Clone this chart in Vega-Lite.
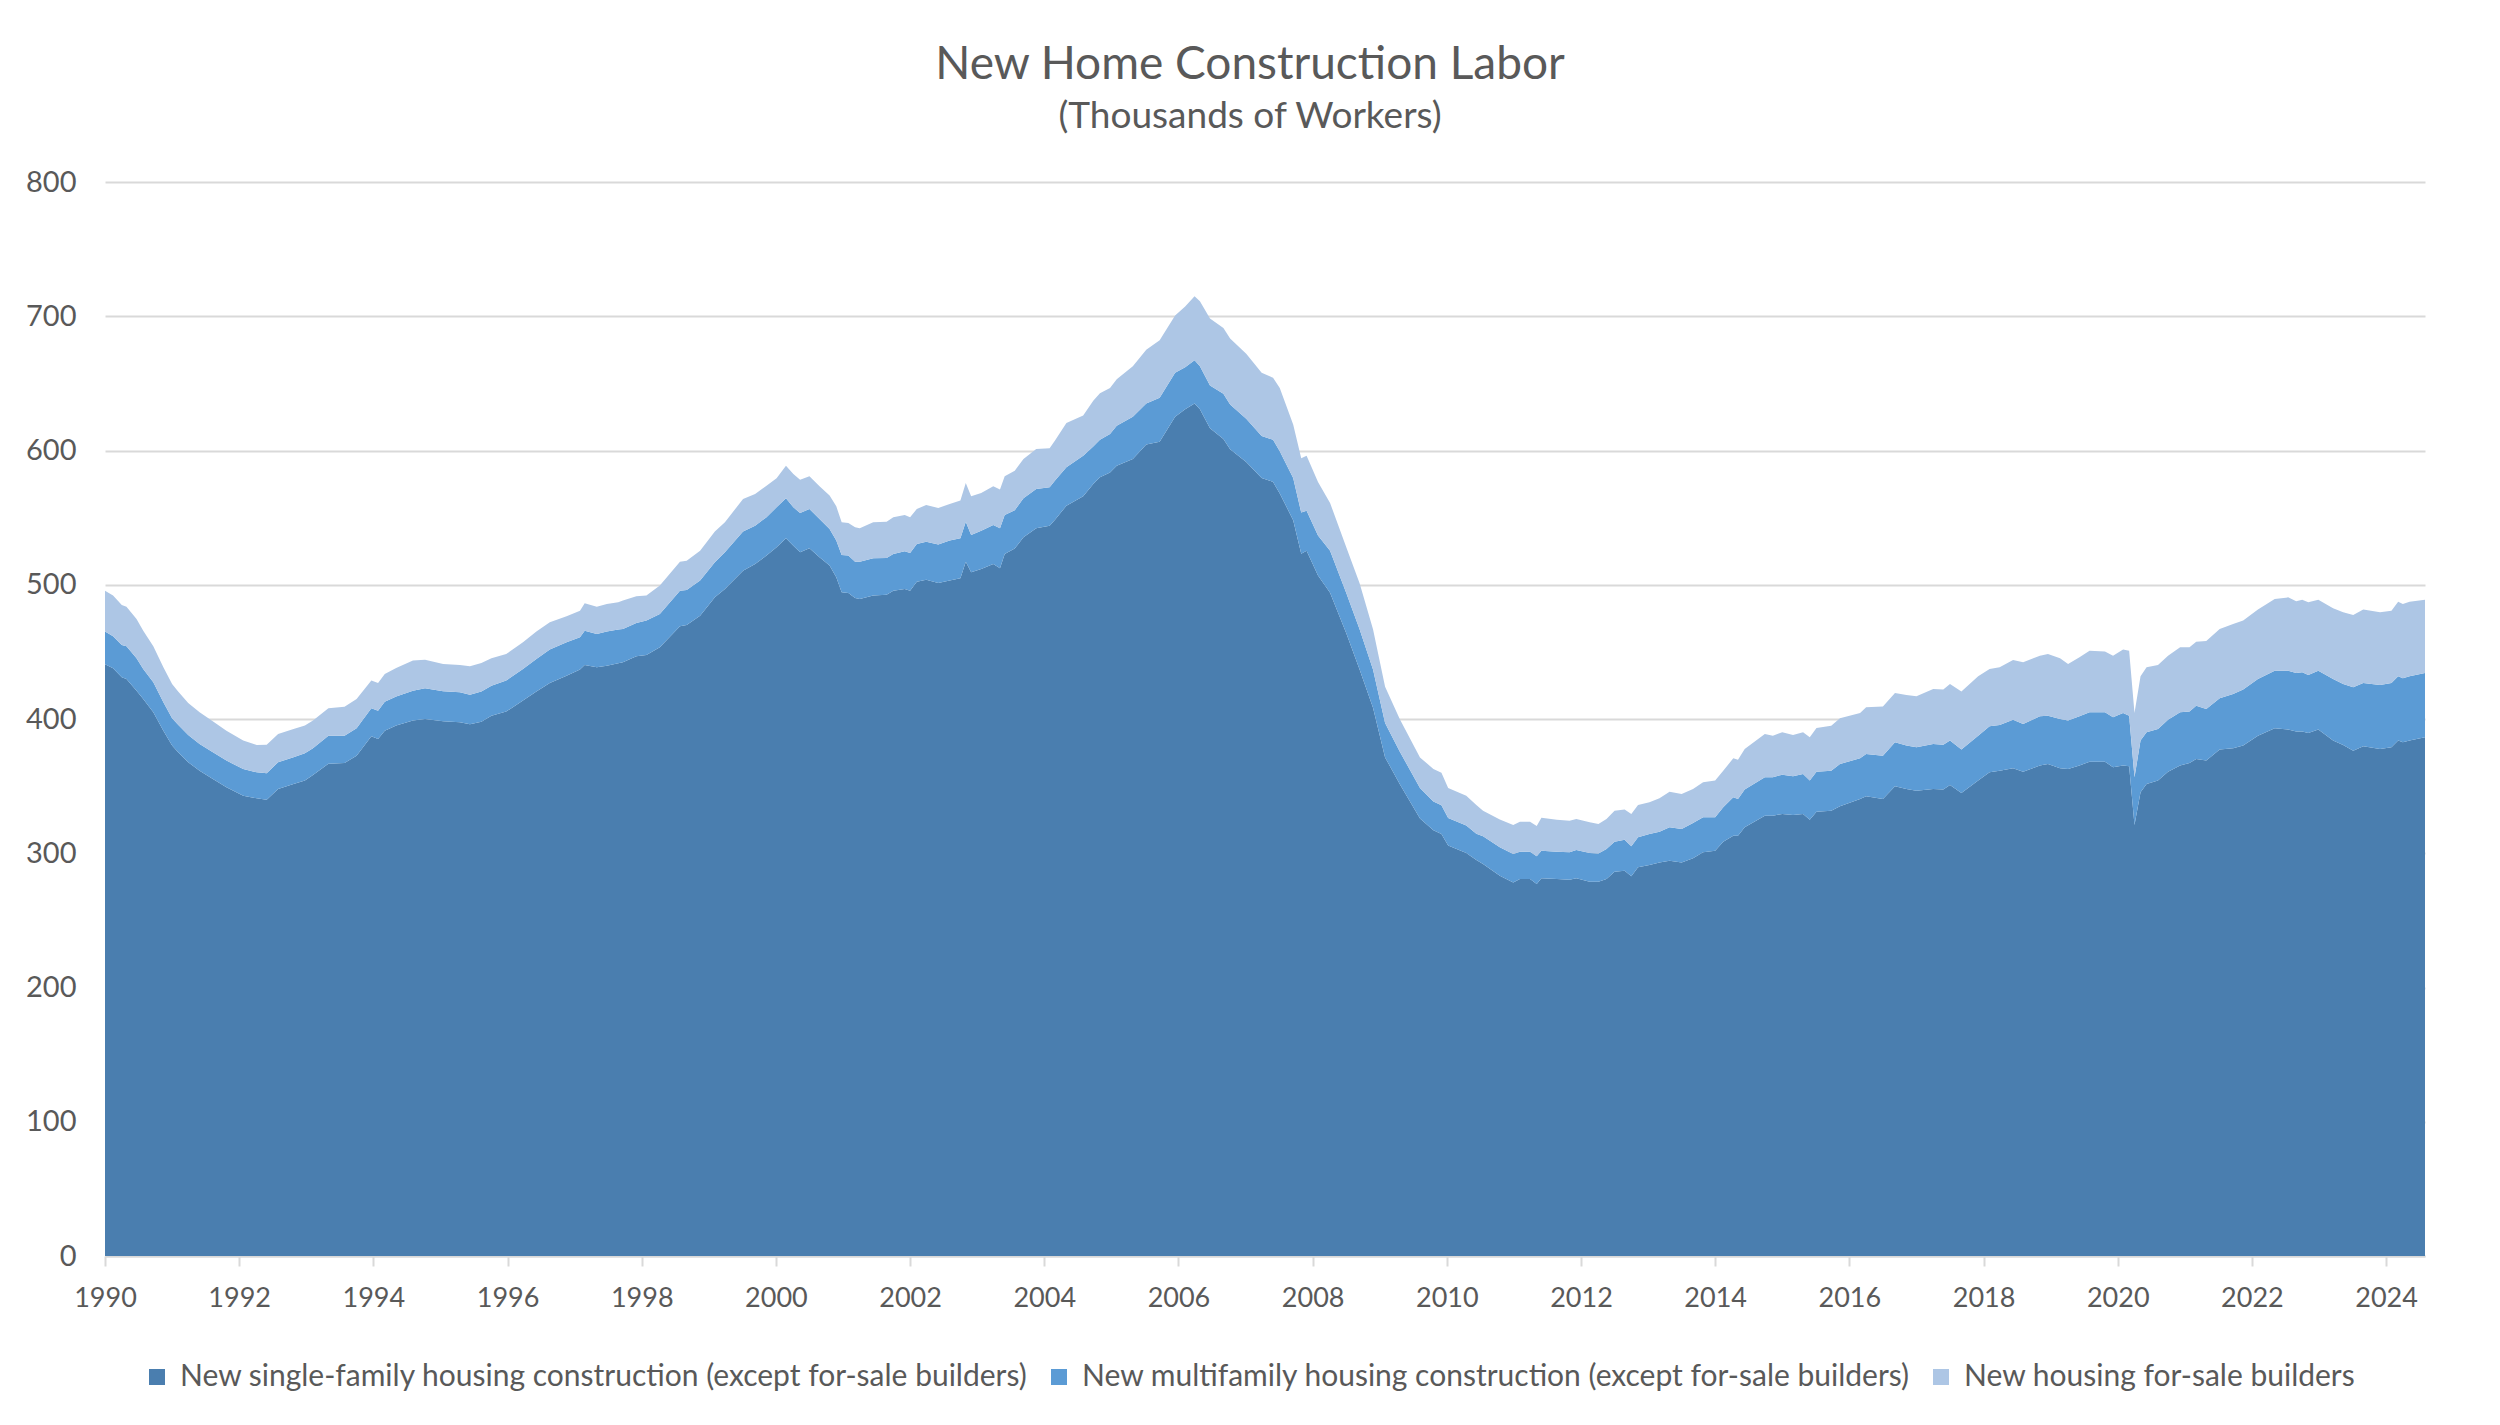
{
  "$schema": "https://vega.github.io/schema/vega-lite/v6.json",
  "width": 2320,
  "height": 1074,
  "autosize": {"type": "none"},
  "padding": {"left": 105, "top": 182, "right": 75, "bottom": 169},
  "background": "white",
  "title": {
    "text": "New Home Construction Labor",
    "subtitle": "(Thousands of Workers)",
    "anchor": "middle",
    "dx": -15,
    "offset": 32,
    "font": "Lato",
    "fontSize": 46,
    "fontWeight": "normal",
    "color": "#595959",
    "subtitleFont": "Lato",
    "subtitleFontSize": 37,
    "subtitleColor": "#595959",
    "subtitlePadding": 10
  },
  "data": {
    "values": [
      {"t": 1990.00, "sf": 440.7, "mf": 24.4, "fs": 30.5},
      {"t": 1990.12, "sf": 437.8, "mf": 23.8, "fs": 30.3},
      {"t": 1990.25, "sf": 431.1, "mf": 24.0, "fs": 29.8},
      {"t": 1990.32, "sf": 429.8, "mf": 24.3, "fs": 29.6},
      {"t": 1990.47, "sf": 421.1, "mf": 24.1, "fs": 29.3},
      {"t": 1990.57, "sf": 414.9, "mf": 22.4, "fs": 28.5},
      {"t": 1990.72, "sf": 405.0, "mf": 22.3, "fs": 26.9},
      {"t": 1990.87, "sf": 391.3, "mf": 21.1, "fs": 26.1},
      {"t": 1991.00, "sf": 380.2, "mf": 20.3, "fs": 25.6},
      {"t": 1991.09, "sf": 375.2, "mf": 20.6, "fs": 24.6},
      {"t": 1991.24, "sf": 367.7, "mf": 20.4, "fs": 23.8},
      {"t": 1991.41, "sf": 361.5, "mf": 19.9, "fs": 23.6},
      {"t": 1991.59, "sf": 355.8, "mf": 19.9, "fs": 23.1},
      {"t": 1991.81, "sf": 349.1, "mf": 19.9, "fs": 22.3},
      {"t": 1992.06, "sf": 342.9, "mf": 19.9, "fs": 21.1},
      {"t": 1992.26, "sf": 340.9, "mf": 19.4, "fs": 20.4},
      {"t": 1992.41, "sf": 339.9, "mf": 19.6, "fs": 21.4},
      {"t": 1992.58, "sf": 347.9, "mf": 19.8, "fs": 21.1},
      {"t": 1992.81, "sf": 351.6, "mf": 19.9, "fs": 21.1},
      {"t": 1992.98, "sf": 354.1, "mf": 20.3, "fs": 20.7},
      {"t": 1993.10, "sf": 358.3, "mf": 19.9, "fs": 20.6},
      {"t": 1993.33, "sf": 366.7, "mf": 20.9, "fs": 20.4},
      {"t": 1993.57, "sf": 367.2, "mf": 20.4, "fs": 21.6},
      {"t": 1993.75, "sf": 372.7, "mf": 20.4, "fs": 21.8},
      {"t": 1993.97, "sf": 387.1, "mf": 20.9, "fs": 20.6},
      {"t": 1994.07, "sf": 385.1, "mf": 21.1, "fs": 20.6},
      {"t": 1994.17, "sf": 391.3, "mf": 21.6, "fs": 20.6},
      {"t": 1994.34, "sf": 395.1, "mf": 21.6, "fs": 21.3},
      {"t": 1994.59, "sf": 398.8, "mf": 22.3, "fs": 22.4},
      {"t": 1994.77, "sf": 400.0, "mf": 22.9, "fs": 21.3},
      {"t": 1995.04, "sf": 398.3, "mf": 22.3, "fs": 20.4},
      {"t": 1995.29, "sf": 397.5, "mf": 22.4, "fs": 20.3},
      {"t": 1995.44, "sf": 396.0, "mf": 22.1, "fs": 21.1},
      {"t": 1995.61, "sf": 398.0, "mf": 22.4, "fs": 21.3},
      {"t": 1995.76, "sf": 402.5, "mf": 22.3, "fs": 20.4},
      {"t": 1995.98, "sf": 405.5, "mf": 23.1, "fs": 19.8},
      {"t": 1996.23, "sf": 413.7, "mf": 23.6, "fs": 19.8},
      {"t": 1996.43, "sf": 420.4, "mf": 24.3, "fs": 20.4},
      {"t": 1996.63, "sf": 426.8, "mf": 24.9, "fs": 20.3},
      {"t": 1996.88, "sf": 432.3, "mf": 24.8, "fs": 19.4},
      {"t": 1997.08, "sf": 436.8, "mf": 24.1, "fs": 19.8},
      {"t": 1997.15, "sf": 440.2, "mf": 25.6, "fs": 20.4},
      {"t": 1997.33, "sf": 438.5, "mf": 24.8, "fs": 20.4},
      {"t": 1997.48, "sf": 439.7, "mf": 25.4, "fs": 20.6},
      {"t": 1997.65, "sf": 441.5, "mf": 25.1, "fs": 20.3},
      {"t": 1997.72, "sf": 442.2, "mf": 24.9, "fs": 21.1},
      {"t": 1997.92, "sf": 446.7, "mf": 24.8, "fs": 19.9},
      {"t": 1998.07, "sf": 447.7, "mf": 25.6, "fs": 18.6},
      {"t": 1998.27, "sf": 453.4, "mf": 24.9, "fs": 21.1},
      {"t": 1998.57, "sf": 469.1, "mf": 26.5, "fs": 21.6},
      {"t": 1998.67, "sf": 470.1, "mf": 26.0, "fs": 21.8},
      {"t": 1998.87, "sf": 477.0, "mf": 26.1, "fs": 22.3},
      {"t": 1999.09, "sf": 490.7, "mf": 26.0, "fs": 22.9},
      {"t": 1999.24, "sf": 496.9, "mf": 27.3, "fs": 22.3},
      {"t": 1999.51, "sf": 510.5, "mf": 29.1, "fs": 24.3},
      {"t": 1999.69, "sf": 515.5, "mf": 28.5, "fs": 23.6},
      {"t": 1999.86, "sf": 521.7, "mf": 28.6, "fs": 23.5},
      {"t": 2000.01, "sf": 527.9, "mf": 29.8, "fs": 21.6},
      {"t": 2000.15, "sf": 534.6, "mf": 29.8, "fs": 24.3},
      {"t": 2000.26, "sf": 529.1, "mf": 28.6, "fs": 24.8},
      {"t": 2000.36, "sf": 524.2, "mf": 29.3, "fs": 24.8},
      {"t": 2000.50, "sf": 527.2, "mf": 29.3, "fs": 24.3},
      {"t": 2000.65, "sf": 520.5, "mf": 28.5, "fs": 24.3},
      {"t": 2000.80, "sf": 514.3, "mf": 27.3, "fs": 24.8},
      {"t": 2000.90, "sf": 505.6, "mf": 27.3, "fs": 25.5},
      {"t": 2000.98, "sf": 494.4, "mf": 27.8, "fs": 24.3},
      {"t": 2001.08, "sf": 493.9, "mf": 27.8, "fs": 24.3},
      {"t": 2001.18, "sf": 490.2, "mf": 27.0, "fs": 25.6},
      {"t": 2001.25, "sf": 489.4, "mf": 27.8, "fs": 24.9},
      {"t": 2001.45, "sf": 491.9, "mf": 27.8, "fs": 26.8},
      {"t": 2001.65, "sf": 492.6, "mf": 27.3, "fs": 27.1},
      {"t": 2001.75, "sf": 495.6, "mf": 27.3, "fs": 27.4},
      {"t": 2001.92, "sf": 496.9, "mf": 28.0, "fs": 27.1},
      {"t": 2002.00, "sf": 495.6, "mf": 28.1, "fs": 26.6},
      {"t": 2002.10, "sf": 502.3, "mf": 28.1, "fs": 26.1},
      {"t": 2002.24, "sf": 503.8, "mf": 28.3, "fs": 27.3},
      {"t": 2002.42, "sf": 501.3, "mf": 28.6, "fs": 27.3},
      {"t": 2002.59, "sf": 503.1, "mf": 29.8, "fs": 27.3},
      {"t": 2002.75, "sf": 504.8, "mf": 29.8, "fs": 28.1},
      {"t": 2002.83, "sf": 517.2, "mf": 29.8, "fs": 28.8},
      {"t": 2002.91, "sf": 509.3, "mf": 27.8, "fs": 28.8},
      {"t": 2003.06, "sf": 511.8, "mf": 28.5, "fs": 28.1},
      {"t": 2003.24, "sf": 515.5, "mf": 29.0, "fs": 28.8},
      {"t": 2003.34, "sf": 512.3, "mf": 29.8, "fs": 28.8},
      {"t": 2003.41, "sf": 522.9, "mf": 29.1, "fs": 28.8},
      {"t": 2003.56, "sf": 527.0, "mf": 28.5, "fs": 29.5},
      {"t": 2003.69, "sf": 535.4, "mf": 29.0, "fs": 29.3},
      {"t": 2003.88, "sf": 542.1, "mf": 29.3, "fs": 29.8},
      {"t": 2004.08, "sf": 544.0, "mf": 28.6, "fs": 29.0},
      {"t": 2004.16, "sf": 548.5, "mf": 29.1, "fs": 29.8},
      {"t": 2004.33, "sf": 558.9, "mf": 28.6, "fs": 33.0},
      {"t": 2004.58, "sf": 566.0, "mf": 30.0, "fs": 30.0},
      {"t": 2004.73, "sf": 575.0, "mf": 28.0, "fs": 34.0},
      {"t": 2004.83, "sf": 580.0, "mf": 28.0, "fs": 34.7},
      {"t": 2004.98, "sf": 583.7, "mf": 28.6, "fs": 34.2},
      {"t": 2005.08, "sf": 588.6, "mf": 29.9, "fs": 34.5},
      {"t": 2005.32, "sf": 593.7, "mf": 31.4, "fs": 37.6},
      {"t": 2005.52, "sf": 604.5, "mf": 30.6, "fs": 39.9},
      {"t": 2005.72, "sf": 606.5, "mf": 32.8, "fs": 42.8},
      {"t": 2005.95, "sf": 625.1, "mf": 32.8, "fs": 42.7},
      {"t": 2006.10, "sf": 630.8, "mf": 31.3, "fs": 45.1},
      {"t": 2006.24, "sf": 635.1, "mf": 32.2, "fs": 47.6},
      {"t": 2006.32, "sf": 630.8, "mf": 31.9, "fs": 48.5},
      {"t": 2006.47, "sf": 616.5, "mf": 32.0, "fs": 49.8},
      {"t": 2006.67, "sf": 608.5, "mf": 33.7, "fs": 49.0},
      {"t": 2006.77, "sf": 600.9, "mf": 33.3, "fs": 49.3},
      {"t": 2007.01, "sf": 591.4, "mf": 32.3, "fs": 48.4},
      {"t": 2007.24, "sf": 579.5, "mf": 31.3, "fs": 47.1},
      {"t": 2007.41, "sf": 576.6, "mf": 31.4, "fs": 46.2},
      {"t": 2007.51, "sf": 568.0, "mf": 31.4, "fs": 47.1},
      {"t": 2007.71, "sf": 548.1, "mf": 31.4, "fs": 39.9},
      {"t": 2007.83, "sf": 523.0, "mf": 30.8, "fs": 40.5},
      {"t": 2007.91, "sf": 525.3, "mf": 29.9, "fs": 40.8},
      {"t": 2008.08, "sf": 506.8, "mf": 29.9, "fs": 39.9},
      {"t": 2008.26, "sf": 494.0, "mf": 31.3, "fs": 35.6},
      {"t": 2008.50, "sf": 464.0, "mf": 30.0, "fs": 34.2},
      {"t": 2008.70, "sf": 436.9, "mf": 30.0, "fs": 34.2},
      {"t": 2008.90, "sf": 408.4, "mf": 28.5, "fs": 30.0},
      {"t": 2009.08, "sf": 371.4, "mf": 25.6, "fs": 27.1},
      {"t": 2009.30, "sf": 351.4, "mf": 24.2, "fs": 24.3},
      {"t": 2009.60, "sf": 325.8, "mf": 22.8, "fs": 22.8},
      {"t": 2009.80, "sf": 317.2, "mf": 21.4, "fs": 24.2},
      {"t": 2009.92, "sf": 314.4, "mf": 21.3, "fs": 24.3},
      {"t": 2010.02, "sf": 305.8, "mf": 20.5, "fs": 22.3},
      {"t": 2010.29, "sf": 300.1, "mf": 20.5, "fs": 22.3},
      {"t": 2010.44, "sf": 295.0, "mf": 19.5, "fs": 21.5},
      {"t": 2010.54, "sf": 292.0, "mf": 20.6, "fs": 19.0},
      {"t": 2010.79, "sf": 283.3, "mf": 21.1, "fs": 20.8},
      {"t": 2010.99, "sf": 278.3, "mf": 21.1, "fs": 21.6},
      {"t": 2011.09, "sf": 280.8, "mf": 20.4, "fs": 22.3},
      {"t": 2011.24, "sf": 280.8, "mf": 20.4, "fs": 22.3},
      {"t": 2011.34, "sf": 277.1, "mf": 20.6, "fs": 22.6},
      {"t": 2011.41, "sf": 281.3, "mf": 20.6, "fs": 24.6},
      {"t": 2011.64, "sf": 280.8, "mf": 20.4, "fs": 23.8},
      {"t": 2011.83, "sf": 280.3, "mf": 20.4, "fs": 23.6},
      {"t": 2011.93, "sf": 281.3, "mf": 21.1, "fs": 23.2},
      {"t": 2012.13, "sf": 278.8, "mf": 21.4, "fs": 22.8},
      {"t": 2012.26, "sf": 278.8, "mf": 21.1, "fs": 21.9},
      {"t": 2012.38, "sf": 280.8, "mf": 22.4, "fs": 22.3},
      {"t": 2012.50, "sf": 286.3, "mf": 22.3, "fs": 23.1},
      {"t": 2012.65, "sf": 287.0, "mf": 23.1, "fs": 22.4},
      {"t": 2012.75, "sf": 282.8, "mf": 22.4, "fs": 24.1},
      {"t": 2012.85, "sf": 289.5, "mf": 22.4, "fs": 24.1},
      {"t": 2013.02, "sf": 291.3, "mf": 23.1, "fs": 23.5},
      {"t": 2013.17, "sf": 293.2, "mf": 22.9, "fs": 24.8},
      {"t": 2013.32, "sf": 294.5, "mf": 24.8, "fs": 26.6},
      {"t": 2013.50, "sf": 293.2, "mf": 24.9, "fs": 26.0},
      {"t": 2013.67, "sf": 296.2, "mf": 26.3, "fs": 25.4},
      {"t": 2013.82, "sf": 300.7, "mf": 26.1, "fs": 26.0},
      {"t": 2014.00, "sf": 301.9, "mf": 24.9, "fs": 27.3},
      {"t": 2014.12, "sf": 308.6, "mf": 25.6, "fs": 27.3},
      {"t": 2014.27, "sf": 313.1, "mf": 28.6, "fs": 29.0},
      {"t": 2014.34, "sf": 313.1, "mf": 27.3, "fs": 29.3},
      {"t": 2014.44, "sf": 319.3, "mf": 28.1, "fs": 30.3},
      {"t": 2014.74, "sf": 328.0, "mf": 28.6, "fs": 32.2},
      {"t": 2014.86, "sf": 328.0, "mf": 28.6, "fs": 31.0},
      {"t": 2015.00, "sf": 329.3, "mf": 29.2, "fs": 31.6},
      {"t": 2015.16, "sf": 328.5, "mf": 28.8, "fs": 30.8},
      {"t": 2015.31, "sf": 329.3, "mf": 29.7, "fs": 31.1},
      {"t": 2015.41, "sf": 325.0, "mf": 29.1, "fs": 32.3},
      {"t": 2015.51, "sf": 331.0, "mf": 29.8, "fs": 32.5},
      {"t": 2015.73, "sf": 331.7, "mf": 29.8, "fs": 33.5},
      {"t": 2015.86, "sf": 335.0, "mf": 31.5, "fs": 34.0},
      {"t": 2016.16, "sf": 340.4, "mf": 30.3, "fs": 33.8},
      {"t": 2016.25, "sf": 342.4, "mf": 31.5, "fs": 34.8},
      {"t": 2016.50, "sf": 340.4, "mf": 32.3, "fs": 36.7},
      {"t": 2016.68, "sf": 349.9, "mf": 32.7, "fs": 36.8},
      {"t": 2016.85, "sf": 347.9, "mf": 32.3, "fs": 37.7},
      {"t": 2017.00, "sf": 346.6, "mf": 32.3, "fs": 38.0},
      {"t": 2017.25, "sf": 347.9, "mf": 33.5, "fs": 41.0},
      {"t": 2017.40, "sf": 347.4, "mf": 33.5, "fs": 41.0},
      {"t": 2017.50, "sf": 350.9, "mf": 33.0, "fs": 42.2},
      {"t": 2017.67, "sf": 344.9, "mf": 32.3, "fs": 43.2},
      {"t": 2017.92, "sf": 354.1, "mf": 33.5, "fs": 44.2},
      {"t": 2018.09, "sf": 360.3, "mf": 34.3, "fs": 42.7},
      {"t": 2018.24, "sf": 361.5, "mf": 34.0, "fs": 43.0},
      {"t": 2018.44, "sf": 363.3, "mf": 36.2, "fs": 44.5},
      {"t": 2018.59, "sf": 360.8, "mf": 35.5, "fs": 45.9},
      {"t": 2018.84, "sf": 365.3, "mf": 36.7, "fs": 45.2},
      {"t": 2018.96, "sf": 366.5, "mf": 36.0, "fs": 45.9},
      {"t": 2019.14, "sf": 363.3, "mf": 36.7, "fs": 45.2},
      {"t": 2019.26, "sf": 362.8, "mf": 36.0, "fs": 42.2},
      {"t": 2019.43, "sf": 365.3, "mf": 36.7, "fs": 44.0},
      {"t": 2019.58, "sf": 368.2, "mf": 36.8, "fs": 45.9},
      {"t": 2019.81, "sf": 368.2, "mf": 36.8, "fs": 45.2},
      {"t": 2019.93, "sf": 364.0, "mf": 37.3, "fs": 45.9},
      {"t": 2020.08, "sf": 365.3, "mf": 39.2, "fs": 47.2},
      {"t": 2020.17, "sf": 364.8, "mf": 37.7, "fs": 48.4},
      {"t": 2020.25, "sf": 321.1, "mf": 35.5, "fs": 47.9},
      {"t": 2020.34, "sf": 345.4, "mf": 38.5, "fs": 47.9},
      {"t": 2020.43, "sf": 351.6, "mf": 38.5, "fs": 48.4},
      {"t": 2020.60, "sf": 354.1, "mf": 38.5, "fs": 47.6},
      {"t": 2020.75, "sf": 360.8, "mf": 38.7, "fs": 47.7},
      {"t": 2020.93, "sf": 365.3, "mf": 39.7, "fs": 48.4},
      {"t": 2021.07, "sf": 367.2, "mf": 38.3, "fs": 47.9},
      {"t": 2021.17, "sf": 370.2, "mf": 39.7, "fs": 47.7},
      {"t": 2021.32, "sf": 369.0, "mf": 38.5, "fs": 50.6},
      {"t": 2021.52, "sf": 377.2, "mf": 38.2, "fs": 51.7},
      {"t": 2021.72, "sf": 378.2, "mf": 40.4, "fs": 52.2},
      {"t": 2021.87, "sf": 380.2, "mf": 41.7, "fs": 51.4},
      {"t": 2022.09, "sf": 387.6, "mf": 42.2, "fs": 51.7},
      {"t": 2022.34, "sf": 393.1, "mf": 42.9, "fs": 53.4},
      {"t": 2022.54, "sf": 392.1, "mf": 43.9, "fs": 54.6},
      {"t": 2022.66, "sf": 390.6, "mf": 43.7, "fs": 53.4},
      {"t": 2022.75, "sf": 390.6, "mf": 44.2, "fs": 54.1},
      {"t": 2022.84, "sf": 389.6, "mf": 43.2, "fs": 54.1},
      {"t": 2022.99, "sf": 392.1, "mf": 43.9, "fs": 52.9},
      {"t": 2023.21, "sf": 383.9, "mf": 45.9, "fs": 52.7},
      {"t": 2023.36, "sf": 380.7, "mf": 45.4, "fs": 53.4},
      {"t": 2023.51, "sf": 376.4, "mf": 47.2, "fs": 53.9},
      {"t": 2023.66, "sf": 379.7, "mf": 47.1, "fs": 54.7},
      {"t": 2023.91, "sf": 377.7, "mf": 47.6, "fs": 54.2},
      {"t": 2024.08, "sf": 378.9, "mf": 47.9, "fs": 53.9},
      {"t": 2024.18, "sf": 383.9, "mf": 47.9, "fs": 55.6},
      {"t": 2024.25, "sf": 382.6, "mf": 47.7, "fs": 55.4},
      {"t": 2024.35, "sf": 383.9, "mf": 47.9, "fs": 55.6},
      {"t": 2024.58, "sf": 386.4, "mf": 47.9, "fs": 54.6}
    ]
  },
  "transform": [
    {"fold": ["sf", "mf", "fs"], "as": ["series", "workers"]}
  ],
  "mark": {"type": "area", "interpolate": "linear"},
  "encoding": {
    "x": {
      "field": "t",
      "type": "quantitative",
      "scale": {"domain": [1990, 2024.58], "nice": false, "zero": false},
      "axis": {
        "title": null,
        "values": [1990, 1992, 1994, 1996, 1998, 2000, 2002, 2004, 2006, 2008, 2010, 2012, 2014, 2016, 2018, 2020, 2022, 2024],
        "format": "d",
        "grid": false,
        "domainColor": "#D9D9D9",
        "domainWidth": 2,
        "tickColor": "#D9D9D9",
        "tickWidth": 2,
        "tickSize": 10,
        "labelFont": "Lato",
        "labelFontSize": 27,
        "labelColor": "#595959",
        "labelPadding": 19,
        "labelFlush": false
      }
    },
    "y": {
      "field": "workers",
      "type": "quantitative",
      "stack": "zero",
      "scale": {"domain": [0, 800], "nice": false},
      "axis": {
        "title": null,
        "values": [0, 100, 200, 300, 400, 500, 600, 700, 800],
        "grid": true,
        "gridColor": "#D9D9D9",
        "gridWidth": 2,
        "domain": false,
        "ticks": false,
        "labelFont": "Lato",
        "labelFontSize": 29,
        "labelColor": "#595959",
        "labelPadding": 29
      }
    },
    "color": {
      "field": "series",
      "type": "nominal",
      "sort": ["sf", "mf", "fs"],
      "scale": {"domain": ["sf", "mf", "fs"], "range": ["#4A7EAF", "#5B9BD5", "#ADC6E5"]},
      "legend": {
        "title": null,
        "orient": "none",
        "direction": "horizontal",
        "legendX": 37,
        "legendY": 1180,
        "symbolType": "square",
        "symbolSize": 256,
        "symbolStrokeWidth": 0,
        "labelFont": "Lato",
        "labelFontSize": 30,
        "labelColor": "#595959",
        "labelOffset": 8,
        "columnPadding": 15,
        "labelLimit": 1400,
        "labelExpr": "datum.label == 'sf' ? 'New single-family housing construction (except for-sale builders)' : datum.label == 'mf' ? 'New multifamily housing construction (except for-sale builders)' : 'New housing for-sale builders'"
      }
    },
    "order": {"field": "series", "sort": "descending"}
  },
  "config": {
    "font": "Lato",
    "view": {"stroke": null}
  }
}
